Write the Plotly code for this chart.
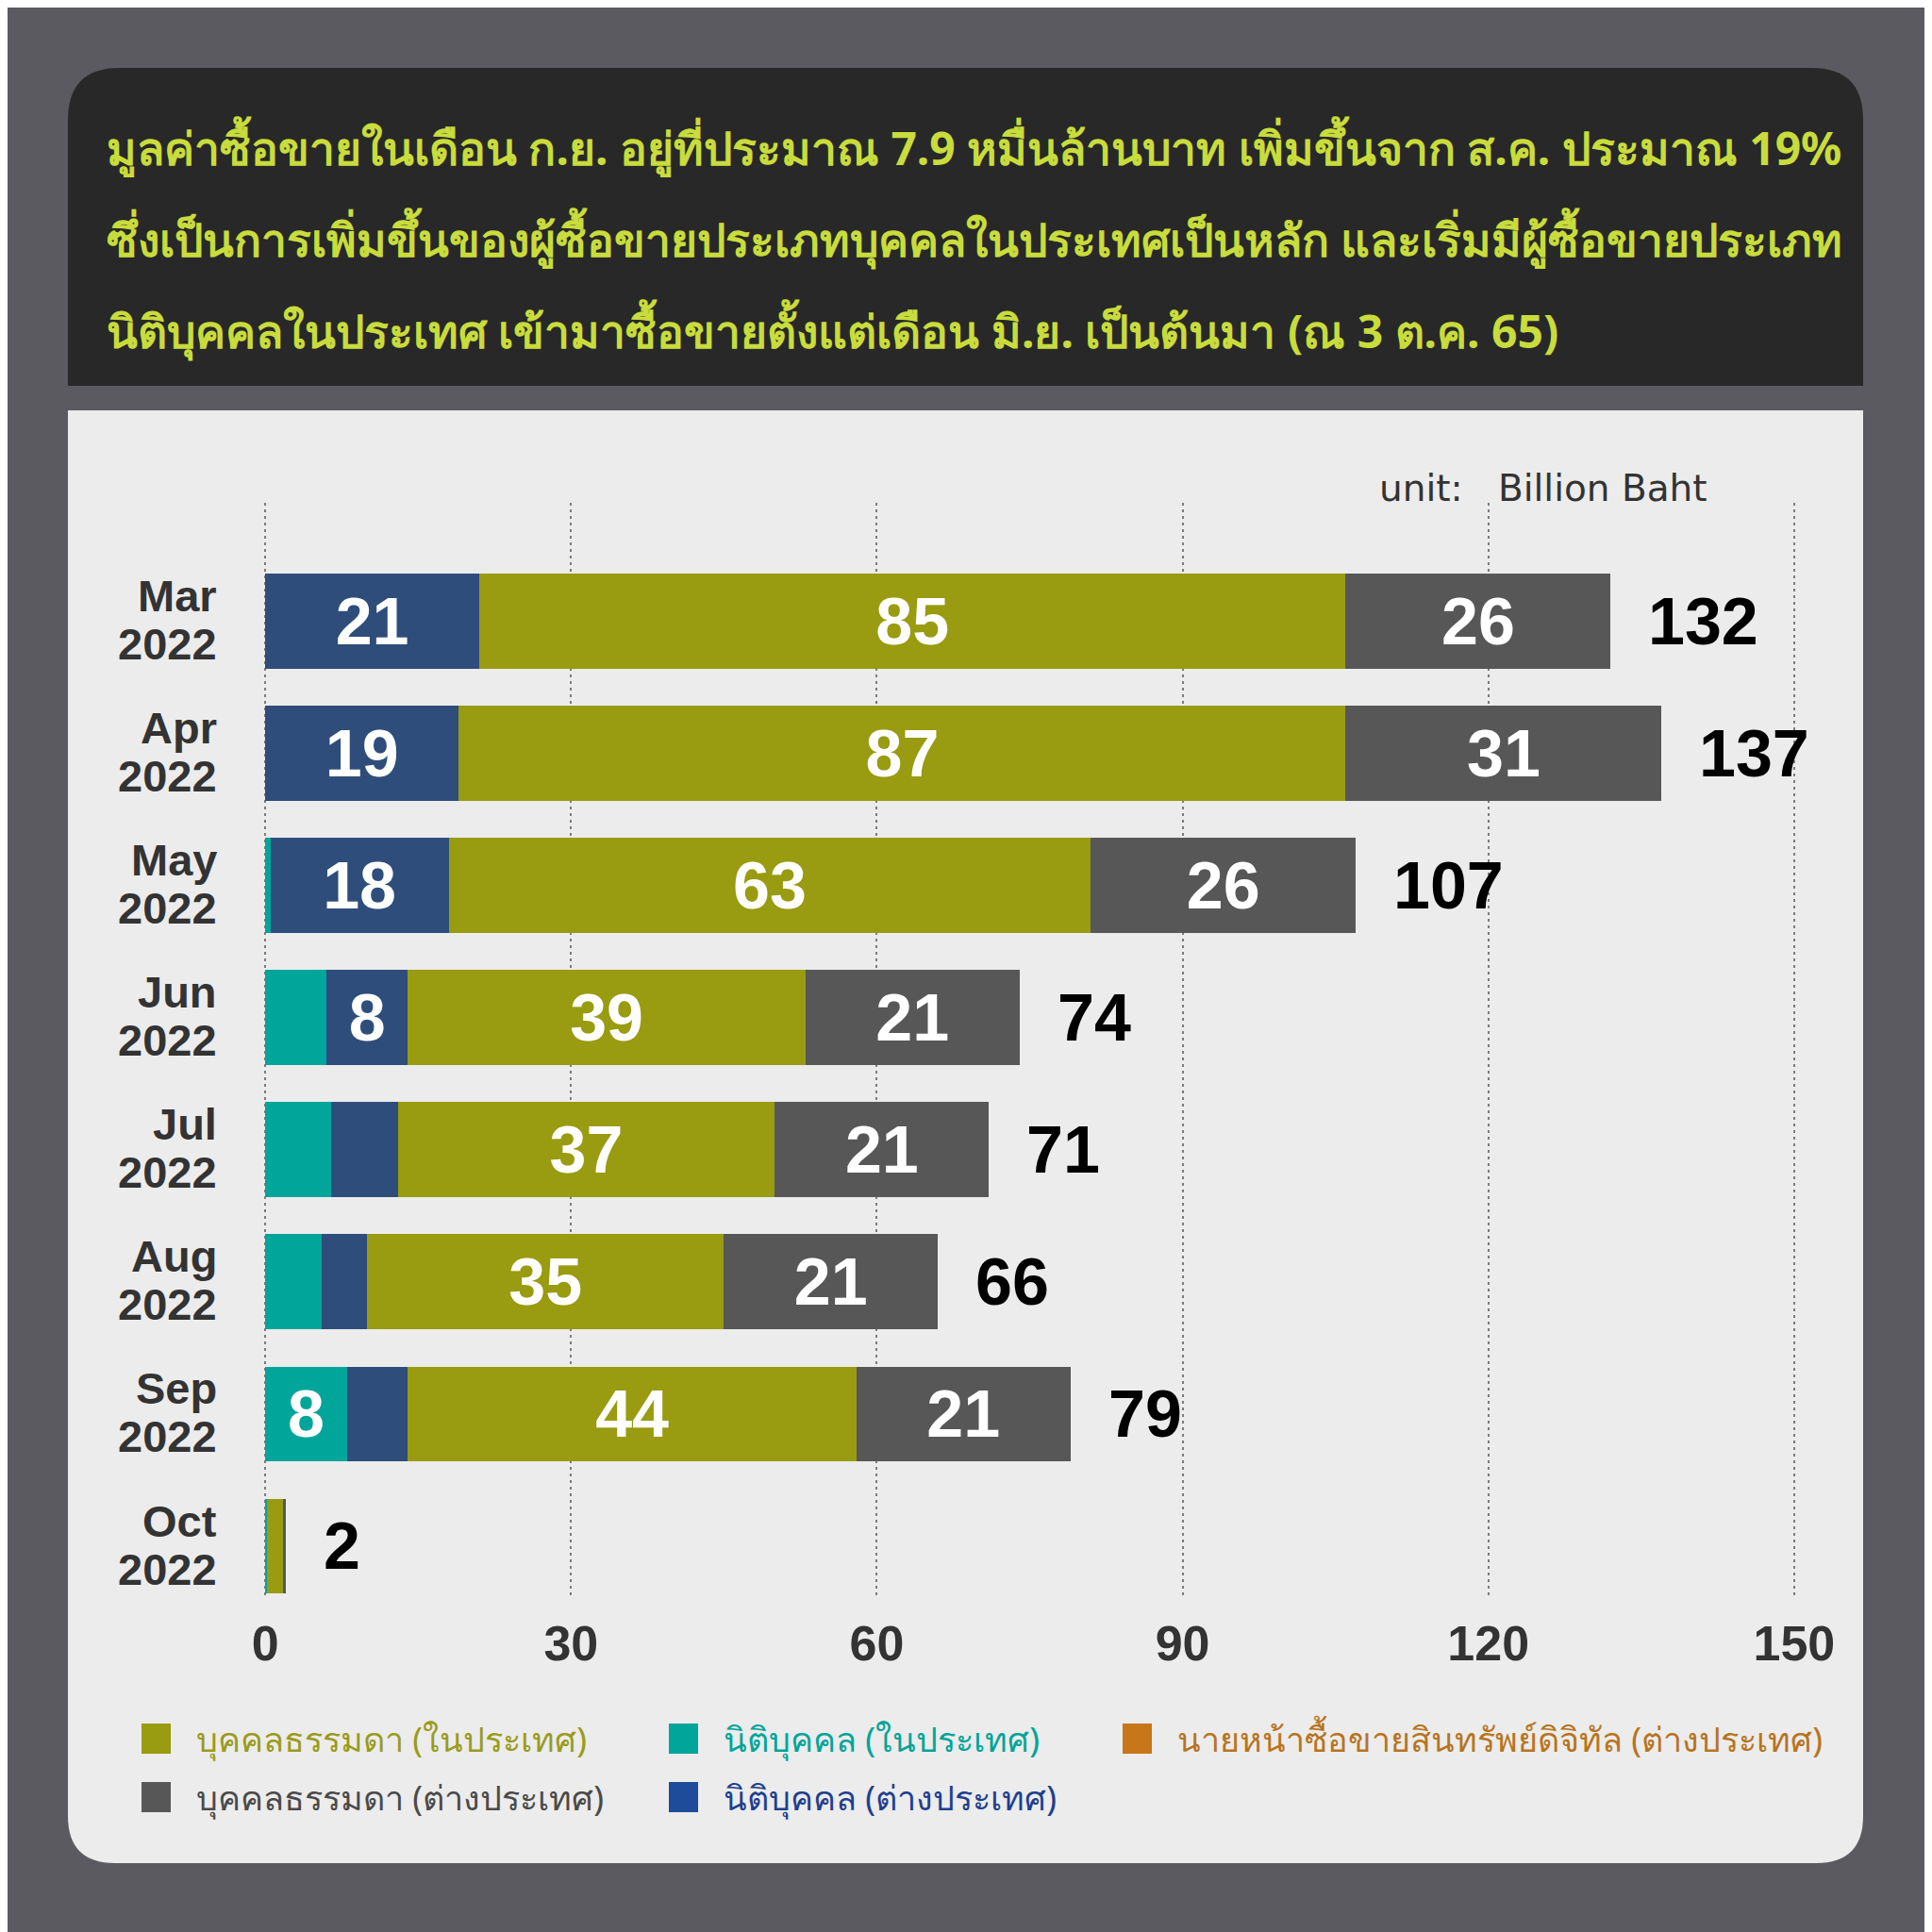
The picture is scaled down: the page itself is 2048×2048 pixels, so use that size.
import plotly.graph_objects as go

# values in billion baht
months = ["Mar", "Apr", "May", "Jun", "Jul", "Aug", "Sep", "Oct"]
years = ["2022", "2022", "2022", "2022", "2022", "2022", "2022", "2022"]

corp_local = [0, 0, 0.5, 6, 6.5, 5.5, 8, 0.2]          # นิติบุคคล (ในประเทศ)
corp_foreign = [21, 19, 17.5, 8, 6.5, 4.5, 6, 0]        # นิติบุคคล (ต่างประเทศ)
person_local = [85, 87, 63, 39, 37, 35, 44, 1.55]       # บุคคลธรรมดา (ในประเทศ)
person_foreign = [26, 31, 26, 21, 21, 21, 21, 0.25]     # บุคคลธรรมดา (ต่างประเทศ)
broker_foreign = [0, 0, 0, 0, 0, 0, 0, 0]               # นายหน้าซื้อขายสินทรัพย์ดิจิทัล (ต่างประเทศ)

# labels that are printed inside the bars
corp_local_lbl = ["", "", "", "", "", "", "8", ""]
corp_foreign_lbl = ["21", "19", "18", "8", "", "", "", ""]
person_local_lbl = ["85", "87", "63", "39", "37", "35", "44", ""]
person_foreign_lbl = ["26", "31", "26", "21", "21", "21", "21", ""]
broker_foreign_lbl = ["", "", "", "", "", "", "", ""]

x_ticks = [0, 30, 60, 90, 120, 150]

title_lines = [
    "มูลค่าซื้อขายในเดือน ก.ย. อยู่ที่ประมาณ 7.9 หมื่นล้านบาท เพิ่มขึ้นจาก ส.ค. ประมาณ 19%",
    "ซึ่งเป็นการเพิ่มขึ้นของผู้ซื้อขายประเภทบุคคลในประเทศเป็นหลัก และเริ่มมีผู้ซื้อขายประเภท",
    "นิติบุคคลในประเทศ เข้ามาซื้อขายตั้งแต่เดือน มิ.ย. เป็นต้นมา (ณ 3 ต.ค. 65)",
]
unit_text = "unit:\u00a0\u00a0 Billion Baht"

W = H = 2048
OFF = 8                      # the page puts the figure 8px in from the corner
# plot area in page pixels (range padded a little so the 0 and 150 grid lines stay)
L, R, T, B = 279, 1904, 533, 1691
ml, mt = L - OFF, T - OFF
mr, mb = W - (R - OFF), H - (B - OFF)


def px(x):
    return (x - L) / (R - L)


def py(y):
    return (B - y) / (B - T)


cats = [m + " " + y for m, y in zip(months, years)]
totals = [a + b + c + d + e for a, b, c, d, e in
          zip(corp_local, corp_foreign, person_local, person_foreign, broker_foreign)]

series = [
    ("นิติบุคคล (ในประเทศ)", corp_local, corp_local_lbl, "#02a59a"),
    ("นิติบุคคล (ต่างประเทศ)", corp_foreign, corp_foreign_lbl, "#2e4d7b"),
    ("บุคคลธรรมดา (ในประเทศ)", person_local, person_local_lbl, "#999b10"),
    ("บุคคลธรรมดา (ต่างประเทศ)", person_foreign, person_foreign_lbl, "#575757"),
    ("นายหน้าซื้อขายสินทรัพย์ดิจิทัล (ต่างประเทศ)", broker_foreign, broker_foreign_lbl, "#c8761a"),
]

fig = go.Figure()
for name, vals, lbls, col in series:
    fig.add_trace(go.Bar(
        y=cats, x=vals, orientation="h", name=name,
        marker=dict(color=col, line=dict(width=0)),
        text=lbls, textposition="inside", insidetextanchor="middle",
        constraintext="none",
        textfont=dict(family="Liberation Sans, Arial", size=70, color="white", weight="bold"),
        hoverinfo="skip", showlegend=False,
    ))

# totals to the right of each bar
for c, t in zip(cats, totals):
    fig.add_annotation(x=t, y=c, text=str(round(t)), showarrow=False,
                       xanchor="left", yanchor="middle", xshift=38,
                       font=dict(family="Liberation Sans, Arial", size=70, color="black", weight="bold"))

# two-line month labels
for c, m, y in zip(cats, months, years):
    fig.add_annotation(x=0, xref="paper", y=c, text=m, showarrow=False,
                       xanchor="right", yanchor="middle", xshift=-47, yshift=27,
                       font=dict(family="Liberation Sans, Arial", size=47, color="#333333", weight="bold"))
    fig.add_annotation(x=0, xref="paper", y=c, text=y, showarrow=False,
                       xanchor="right", yanchor="middle", xshift=-47, yshift=-24,
                       font=dict(family="Liberation Sans, Arial", size=47, color="#333333", weight="bold"))

# header text
for line, yc in zip(title_lines, [156, 253, 350]):
    fig.add_annotation(x=px(111), y=py(yc), xref="paper", yref="paper", text=line,
                       showarrow=False, xanchor="left", yanchor="middle",
                       font=dict(family="Noto Sans, DejaVu Sans", size=48, color="#c8dc3c", weight="bold"))

fig.add_annotation(x=px(1460), y=py(518), xref="paper", yref="paper", text=unit_text,
                   showarrow=False, xanchor="left", yanchor="middle",
                   font=dict(family="DejaVu Sans", size=39, color="#333333"))

# legend drawn by hand (3 columns x 2 rows)
legend_order = [2, 0, 4, 3, 1]
legend_text_cols = ["#9a9b1b", "#00a49a", "#b8741e", "#4a4a4a", "#1f3f8f"]
legend_box_cols = ["#999b10", "#02a59a", "#c8761a", "#575757", "#1f4b9b"]
col_x = [150, 709, 1190]
row_y = [1843, 1905]
shapes = []
for k, si in enumerate(legend_order):
    cx = col_x[k % 3]
    ry = row_y[k // 3]
    shapes.append(dict(type="rect", xref="paper", yref="paper",
                       x0=px(cx), x1=px(cx + 31), y0=py(ry + 16), y1=py(ry - 16),
                       fillcolor=legend_box_cols[k], line=dict(width=0), layer="below"))
    fig.add_annotation(x=px(cx + 56), y=py(ry), xref="paper", yref="paper",
                       text=series[si][0], showarrow=False, xanchor="left", yanchor="middle",
                       font=dict(family="Noto Sans, DejaVu Sans", size=36, color=legend_text_cols[k]))


def rounded(x0, y0, x1, y1, r, top=True, bottom=True):
    rx = r / (R - L)
    ry = r / (B - T)
    X0, X1, Y0, Y1 = px(x0), px(x1), py(y1), py(y0)   # Y1 = top in paper
    p = "M %f,%f " % (X0, Y1 - (ry if top else 0))
    if top:
        p += "Q %f,%f %f,%f " % (X0, Y1, X0 + rx, Y1)
        p += "L %f,%f Q %f,%f %f,%f " % (X1 - rx, Y1, X1, Y1, X1, Y1 - ry)
    else:
        p += "L %f,%f " % (X1, Y1)
    if bottom:
        p += "L %f,%f Q %f,%f %f,%f " % (X1, Y0 + ry, X1, Y0, X1 - rx, Y0)
        p += "L %f,%f Q %f,%f %f,%f Z" % (X0 + rx, Y0, X0, Y0, X0, Y0 + ry)
    else:
        p += "L %f,%f L %f,%f Z" % (X1, Y0, X0, Y0)
    return p


shapes.insert(0, dict(type="path", xref="paper", yref="paper", layer="below",
                      path=rounded(72, 435, 1975, 1975, 50, top=False),
                      fillcolor="#ececec", line=dict(width=0)))
shapes.insert(0, dict(type="path", xref="paper", yref="paper", layer="below",
                      path=rounded(72, 72, 1975, 409, 55, bottom=False),
                      fillcolor="#282828", line=dict(width=0)))

fig.update_layout(
    width=W, height=H, barmode="stack", bargap=0.28,
    margin=dict(l=ml, r=mr, t=mt, b=mb, pad=0),
    paper_bgcolor="#5a5a60", plot_bgcolor="rgba(0,0,0,0)",
    showlegend=False, shapes=shapes,
)
fig.update_xaxes(range=[-0.2, 150.2], tickvals=x_ticks,
                 showgrid=True, gridcolor="#7c7c7c", griddash="3px,4px", gridwidth=1.5,
                 zeroline=False, showline=False, ticks="", ticklabelstandoff=16,
                 tickfont=dict(family="Liberation Sans, Arial", size=52, color="#333333", weight="bold"))
fig.update_yaxes(type="category", range=[7.371, -0.896], showticklabels=False,
                 showgrid=False, zeroline=False, showline=False)

fig.write_html("out.html")
